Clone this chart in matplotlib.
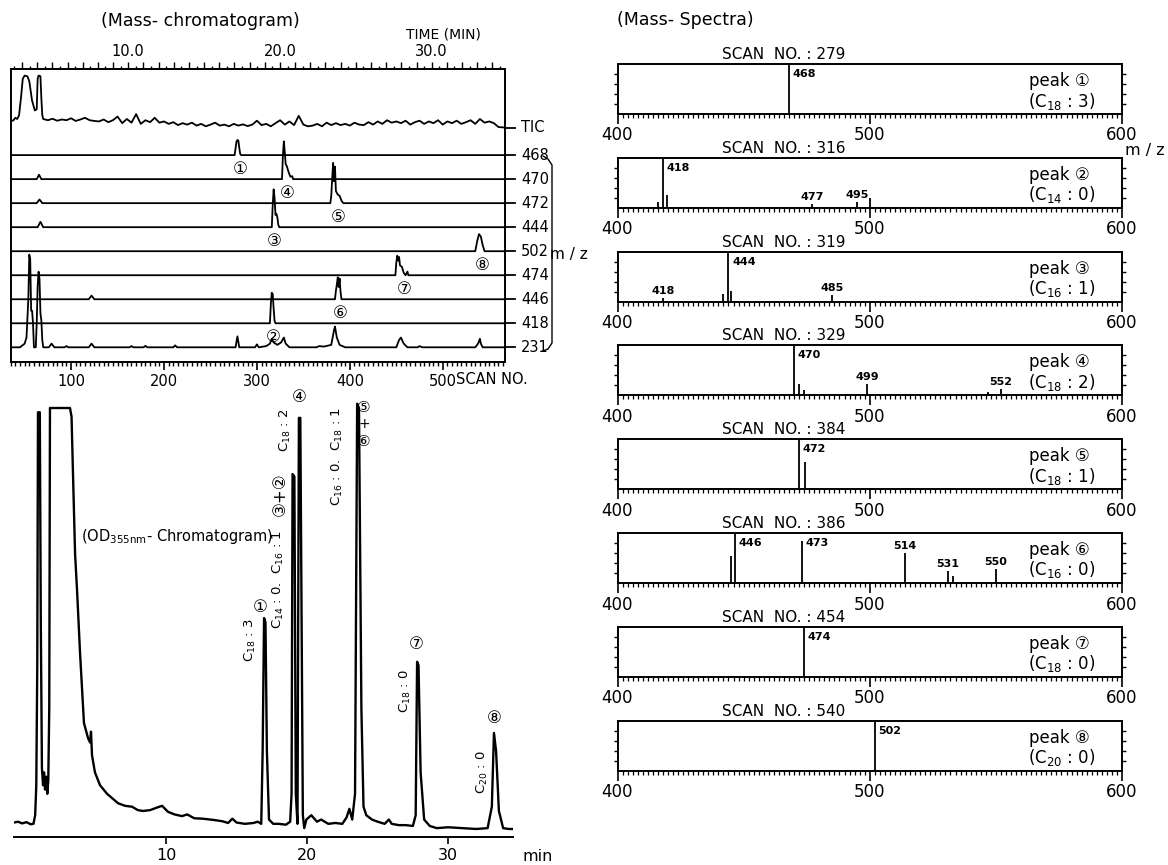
import matplotlib
matplotlib.use('Agg')
import matplotlib.pyplot as plt
from matplotlib.lines import Line2D
from matplotlib.ticker import MultipleLocator, FixedLocator, FuncFormatter, NullFormatter
import matplotlib.transforms as mtransforms

plt.rcParams['font.family'] = ['DejaVu Sans', 'Noto Sans CJK JP']
plt.rcParams['mathtext.default'] = 'regular'
plt.rcParams['axes.linewidth'] = 1.4

W, H = 1168, 865

# ---- mass chromatogram (TIC + ion traces), x in scan number ----
tic_scan = [35, 38, 40, 42, 44, 46, 48, 50, 53, 55, 58, 61, 63, 64, 65, 67, 68, 69,
            70, 75, 80, 85, 90, 95, 100, 105, 110, 115, 120, 125, 130, 135, 140, 145,
            150, 155, 160, 165, 170, 175, 180, 185, 190, 195, 200, 205, 210, 215, 220,
            225, 230, 235, 240, 245, 250, 255, 260, 265, 270, 275, 280, 285, 290, 295,
            300, 305, 310, 315, 320, 325, 330, 335, 340, 345, 350, 355, 360, 365, 370,
            375, 380, 385, 390, 395, 400, 405, 410, 415, 420, 425, 430, 435, 440, 445,
            450, 455, 460, 465, 470, 475, 480, 485, 490, 495, 500, 505, 510, 515, 520,
            525, 530, 535, 540, 545, 550, 555, 560, 567]
tic_val = [0.25, 0.3, 0.4, 0.35, 0.5, 1.2, 2.0, 2.13, 2.1, 1.9, 1.1, 0.7, 0.75, 2.0, 2.13, 2.1, 1.2, 0.5,
           0.35, 0.30, 0.36, 0.28, 0.33, 0.30, 0.38, 0.27, 0.33, 0.40, 0.30, 0.27, 0.25, 0.33, 0.22, 0.30,
           0.45, 0.18, 0.35, 0.20, 0.55, 0.15, 0.30, 0.22, 0.40, 0.20, 0.25, 0.15, 0.22, 0.10, 0.18,
           0.12, 0.20, 0.08, 0.15, 0.05, 0.12, 0.20, 0.08, 0.12, 0.05, 0.15, 0.08, 0.13, 0.06, 0.12,
           0.28, 0.10, 0.15, 0.05, 0.18, 0.30, 0.12, 0.25, 0.10, 0.48, 0.12, 0.05, 0.08, 0.15, 0.05,
           0.20, 0.10, 0.18, 0.10, 0.15, 0.08, 0.20, 0.12, 0.10, 0.22, 0.12, 0.25, 0.15, 0.30, 0.20,
           0.25, 0.18, 0.28, 0.12, 0.22, 0.28, 0.15, 0.25, 0.18, 0.30, 0.12, 0.25, 0.18, 0.28, 0.15,
           0.22, 0.30, 0.15, 0.35, 0.20, 0.25, 0.18, 0.02, 0.0]

# ion traces: (scan, height) key points, baseline zero elsewhere
trace_468 = [(276, 0), (278, 0.55), (279, 0.62), (280, 0.6), (281, 0.3), (282, 0.05), (283, 0)]
trace_470 = [(63, 0), (65.5, 0.18), (68, 0), (327, 0), (328, 1.0), (329, 1.55), (330, 1.1),
             (331, 0.6), (332, 0.55), (334, 0.3), (336, 0.1), (338, 0.12), (339, 0)]
trace_472 = [(63, 0), (66, 0.15), (69, 0), (379, 0), (380, 0.3), (381, 1.0), (382, 1.65),
             (383, 0.9), (384, 1.5), (385, 0.5), (387, 0.35), (389, 0.3), (391, 0.1), (393, 0)]
trace_444 = [(64, 0), (67, 0.22), (70, 0), (316, 0), (317, 0.9), (318, 1.55), (319, 1.2),
             (320, 0.5), (321, 0.55), (322, 0.4), (323, 0.1), (324, 0)]
trace_502 = [(535, 0), (537, 0.4), (539, 0.7), (541, 0.6), (543, 0.25), (545, 0)]
trace_474 = [(449, 0), (450, 0.5), (451, 0.8), (452, 0.6), (453, 0.75), (454, 0.4),
             (456, 0.35), (458, 0.1), (460, 0), (462, 0.15), (463, 0)]
trace_446 = [(119, 0), (122, 0.15), (125, 0), (384, 0), (385, 0.35), (386, 0.6), (387, 0.9),
             (388, 0.5), (389, 0.85), (390, 0.3), (391, 0)]
trace_418 = [(314, 0), (315, 0.8), (316, 1.25), (317, 1.2), (318, 0.6), (319, 0.1), (320, 0)]
trace_231 = [(45, 0), (50, 0.15), (52, 0.4), (54, 2.0), (55, 3.8), (56, 3.6), (57, 1.5), (58, 1.5),
             (59, 1.0), (60, 0), (62, 0), (63, 1.0), (64, 2.5), (65, 3.1), (66, 2.8), (67, 1.4),
             (68, 1.1), (69, 0.3), (70, 0), (76, 0), (79, 0.15), (82, 0), (93, 0), (95, 0.05),
             (97, 0), (119, 0), (122, 0.15), (125, 0), (163, 0), (165, 0.05), (167, 0), (178, 0),
             (180, 0.06), (182, 0), (210, 0), (212, 0.08), (214, 0), (277, 0), (279, 0.45),
             (281, 0), (298, 0), (300, 0.12), (302, 0), (310, 0.05), (314, 0.15), (316, 0.35),
             (318, 0.2), (322, 0.1), (326, 0.2), (329, 0.4), (331, 0.15), (335, 0), (364, 0),
             (367, 0.05), (372, 0.03), (380, 0.1), (383, 0.7), (384, 0.85), (386, 0.4),
             (389, 0.1), (395, 0), (450, 0), (453, 0.3), (455, 0.4), (458, 0.15), (462, 0),
             (473, 0), (475, 0.05), (478, 0), (535, 0), (538, 0.15), (540, 0.35), (541, 0.15),
             (543, 0)]

ion_names = ['468', '470', '472', '444', '502', '474', '446', '418', '231']
ion_traces = [trace_468, trace_470, trace_472, trace_444, trace_502, trace_474,
              trace_446, trace_418, trace_231]
# circled peak number under each ion trace (scan position)
ion_marks = [('①', 282), ('④', 333), ('⑤', 388), ('③', 319), ('⑧', 543),
             ('⑦', 459), ('⑥', 390), ('②', 317), None]

# ---- OD355nm chromatogram, x in minutes ----
od_time = [-0.78, -0.5, -0.2, 0.1, 0.4, 0.6, 0.72, 0.8, 0.87, 0.92, 1.05, 1.12, 1.2, 1.28,
           1.35, 1.42, 1.5, 1.58, 1.65, 1.72, 1.77, 3.19, 3.3, 3.4, 3.55, 3.69, 3.9, 4.18,
           4.47, 4.61, 4.68, 4.75, 4.96, 5.32, 5.82, 6.6, 7.1, 7.59, 8.0, 8.37, 8.87, 9.36,
           9.72, 10.14, 10.6, 11.13, 11.5, 12.0, 12.6, 13.4, 14.0, 14.4, 14.7, 15.0, 15.6,
           16.2, 16.5, 16.75, 16.85, 16.95, 17.05, 17.15, 17.3, 17.6, 18.0, 18.5, 18.8, 18.9,
           18.97, 19.1, 19.2, 19.32, 19.42, 19.52, 19.7, 19.8, 19.95, 20.3, 20.7, 21.0, 21.5,
           22.0, 22.5, 22.8, 23.0, 23.2, 23.4, 23.55, 23.68, 23.85, 24.0, 24.2, 24.6, 25.0,
           25.5, 25.8, 26.0, 26.5, 27.0, 27.5, 27.7, 27.8, 27.9, 28.05, 28.3, 28.7, 29.2,
           30.0, 31.0, 32.0, 32.8, 33.1, 33.25, 33.4, 33.6, 33.9, 34.3, 34.6]
od_abs = [0.033, 0.035, 0.031, 0.034, 0.029, 0.03, 0.05, 0.12, 0.4, 0.99, 0.99, 0.5, 0.16,
          0.12, 0.15, 0.11, 0.14, 0.10, 0.13, 0.3, 1.0, 1.0, 0.98, 0.85, 0.66, 0.575, 0.43,
          0.265, 0.23, 0.22, 0.245, 0.19, 0.15, 0.12, 0.10, 0.078, 0.072, 0.07, 0.062, 0.06,
          0.062, 0.068, 0.072, 0.058, 0.052, 0.048, 0.052, 0.043, 0.042, 0.039, 0.036, 0.032,
          0.042, 0.033, 0.03, 0.032, 0.035, 0.03, 0.2, 0.51, 0.50, 0.2, 0.04, 0.03, 0.03, 0.028,
          0.035, 0.1, 0.846, 0.84, 0.1, 0.03, 0.977, 0.977, 0.05, 0.02, 0.04, 0.05, 0.035, 0.04,
          0.03, 0.032, 0.03, 0.045, 0.065, 0.04, 0.1, 1.01, 1.0, 0.3, 0.07, 0.05, 0.04, 0.035,
          0.03, 0.04, 0.03, 0.027, 0.027, 0.025, 0.05, 0.408, 0.40, 0.15, 0.04, 0.025, 0.02,
          0.022, 0.02, 0.018, 0.02, 0.07, 0.242, 0.2, 0.06, 0.02, 0.018, 0.018]

# ---- mass spectra ----
spec_scan_no = [279, 316, 319, 329, 384, 386, 454, 540]
spec_tag = ['①', '②', '③', '④', '⑤', '⑥', '⑦', '⑧']
spec_chain = ['18', '14', '16', '18', '18', '16', '18', '20']
spec_double = ['3', '0', '1', '2', '1', '0', '0', '0']
spec_lines = [
    [(468, 1.0)],
    [(416, 0.12), (418, 1.0), (419.5, 0.25), (477, 0.07), (495, 0.12), (500, 0.2)],
    [(418, 0.08), (442, 0.15), (444, 1.0), (445, 0.22), (485, 0.13)],
    [(470, 1.0), (472, 0.22), (474, 0.1), (499, 0.22), (547, 0.07), (552, 0.12)],
    [(472, 1.0), (474.5, 0.55)],
    [(445, 0.55), (446.5, 1.0), (473, 0.85), (514, 0.6), (531, 0.24), (533, 0.15), (550, 0.28)],
    [(474, 1.0)],
    [(502, 1.0)],
]
spec_labeled = [
    [468], [418, 477, 495], [418, 444, 485], [470, 499, 552],
    [472], [446, 473, 514, 531, 550], [474], [502],
]


fig = plt.figure(figsize=(W / 100, H / 100), dpi=100)


def box(x0, y0, x1, y1):
    """add axes from a pixel box measured from the top-left corner"""
    return fig.add_axes([x0 / W, 1 - y1 / H, (x1 - x0) / W, (y1 - y0) / H])


def ftext(x, y, s, **kw):
    return fig.text(x / W, 1 - y / H, s, **kw)


def fline(xs, ys, **kw):
    fig.add_artist(Line2D([x / W for x in xs], [1 - y / H for y in ys], color='black', **kw))


def scan_to_min(s):
    return 10 + (s - 161.5) / 16.33


def min_to_scan(t):
    return 161.5 + (t - 10) * 16.33


# ======================= mass chromatogram =======================
ax = box(10.7, 69, 505, 361.7)
xmin, xmax = 35, 567
ax.set_xlim(xmin, xmax)
ax.set_ylim(0, 12)
ax.set_yticks([])
lw = 1.3
label_tr = mtransforms.blended_transform_factory(ax.transAxes, ax.transData)

tic_base = 9.6
ax.plot(tic_scan, [tic_base + v for v in tic_val], color='black', lw=lw)
ax.plot([1.0, 1.02], [tic_base, tic_base], color='black', lw=lw, transform=label_tr, clip_on=False)
ax.text(1.033, tic_base, 'TIC', transform=label_tr, ha='left', va='center', fontsize=10.5)

for i, (name, pts, mark) in enumerate(zip(ion_names, ion_traces, ion_marks)):
    base = 8.47 - 0.985 * i
    xs = [xmin] + [p[0] for p in pts] + [xmax]
    ys = [base] + [base + p[1] for p in pts] + [base]
    ax.plot(xs, ys, color='black', lw=lw)
    ax.plot([1.0, 1.02], [base, base], color='black', lw=lw, transform=label_tr, clip_on=False)
    ax.text(1.033, base, name, transform=label_tr, ha='left', va='center', fontsize=10.5)
    if mark:
        ax.text(mark[1], base - 0.55, mark[0], ha='center', va='center', fontsize=12)

ax.xaxis.set_major_locator(FixedLocator([100, 200, 300, 400, 500]))
ax.xaxis.set_minor_locator(MultipleLocator(5))
ax.tick_params(axis='x', which='major', direction='out', length=6, width=1.2, labelsize=10.5, pad=3)
ax.tick_params(axis='x', which='minor', direction='out', length=3, width=1.0)

top = ax.secondary_xaxis('top', functions=(scan_to_min, min_to_scan))
top.xaxis.set_major_locator(MultipleLocator(1))
top.xaxis.set_minor_locator(MultipleLocator(0.5))
top.xaxis.set_major_formatter(FuncFormatter(lambda v, p: f'{v:.1f}' if round(v) % 10 == 0 else ''))
top.tick_params(which='major', direction='out', length=5, width=1.0, labelsize=10.5, pad=2)
top.tick_params(which='minor', direction='out', length=2.5, width=1.0)

ftext(492, 380, 'SCAN NO.', ha='center', va='center', fontsize=10.5)
ftext(200, 21, '(Mass- chromatogram)', ha='center', va='center', fontsize=12.5)
ftext(443, 34, 'TIME (MIN)', ha='center', va='center', fontsize=10)

# bracket grouping the ion traces
fline([543, 548, 552, 552, 548, 543], [156, 159, 165, 343, 349, 351], lw=1.0)
ftext(569, 255, 'm / z', ha='center', va='center', fontsize=11)

# ======================= OD355nm chromatogram =======================
od = box(14, 395, 513, 836.7)
od.set_xlim(-0.78, 34.6)
od.set_ylim(0, (836.7 - 395) / 428.7)
od.plot(od_time, od_abs, color='black', lw=1.7)
for s in ('left', 'top', 'right'):
    od.spines[s].set_visible(False)
od.set_yticks([])
od.set_xticks([10, 20, 30])
od.tick_params(axis='x', direction='out', length=5, width=1.2, labelsize=11.5, pad=3)
od.text(1.02, -0.045, 'min', transform=od.transAxes, ha='left', va='center', fontsize=11.5)
od.text(3.95, 0.70, '(OD$_{355nm}$- Chromatogram)', ha='left', va='center', fontsize=10.5)

rot = dict(rotation=90, ha='center', va='center', fontsize=9.5)
circ = dict(ha='center', va='center', fontsize=12)
od.text(15.96, 0.458, 'C$_{18}$ : 3', **rot)
od.text(16.67, 0.536, '①', **circ)
od.text(18.0, 0.60, 'C$_{14}$ : 0.  C$_{16}$ : 1', **rot)
od.text(18.08, 0.80, '③+②', rotation=90, ha='center', va='center', fontsize=12)
od.text(18.5, 0.948, 'C$_{18}$ : 2', **rot)
od.text(19.43, 1.025, '④', **circ)
od.text(22.16, 0.888, 'C$_{16}$ : 0.  C$_{18}$ : 1', **rot)
od.text(24.04, 1.0, '⑤', ha='center', va='center', fontsize=11)
od.text(24.04, 0.962, '+', ha='center', va='center', fontsize=10)
od.text(24.04, 0.922, '⑥', ha='center', va='center', fontsize=11)
od.text(26.95, 0.34, 'C$_{18}$ : 0', **rot)
od.text(27.73, 0.45, '⑦', **circ)
od.text(32.4, 0.15, 'C$_{20}$ : 0', **rot)
od.text(33.3, 0.277, '⑧', **circ)

# ======================= mass spectra =======================
ftext(617, 20, '(Mass- Spectra)', ha='left', va='center', fontsize=12.5)
for i in range(8):
    y0 = 64 + 93.8 * i
    sp = box(617.5, y0, 1122, y0 + 50)
    sp.set_xlim(400, 600)
    sp.set_ylim(0, 1)
    for mz, rel in spec_lines[i]:
        sp.plot([mz, mz], [0, rel], color='black', lw=1.3, solid_capstyle='butt')
        num = int(round(mz - 0.1))
        if num in spec_labeled[i]:
            if rel >= 0.7:
                sp.text(mz + 1.5, 0.8, str(num), ha='left', va='center', fontsize=8, fontweight='bold')
            else:
                sp.text(mz, rel + 0.14, str(num), ha='center', va='center', fontsize=8, fontweight='bold')
    sp.set_xticks([400, 500, 600])
    sp.xaxis.set_minor_locator(MultipleLocator(2))
    sp.tick_params(axis='x', which='major', direction='out', length=7, width=1.2,
                   labelsize=12, pad=2)
    sp.tick_params(axis='x', which='minor', direction='out', length=3, width=0.9)
    sp.set_yticks([0.2, 0.4, 0.6, 0.8])
    sp.yaxis.set_major_formatter(NullFormatter())
    sp.tick_params(axis='y', which='both', left=True, right=True, direction='out', length=3, width=1.0)
    sp.text(0.33, 1.04, f'SCAN  NO. : {spec_scan_no[i]}', transform=sp.transAxes,
            ha='center', va='bottom', fontsize=11)
    sp.text(0.875, 0.66, f'peak {spec_tag[i]}', transform=sp.transAxes,
            ha='center', va='center', fontsize=12)
    sp.text(0.88, 0.26, f'(C$_{{{spec_chain[i]}}}$ : {spec_double[i]})', transform=sp.transAxes,
            ha='center', va='center', fontsize=12)

ftext(1145, 151, 'm / z', ha='center', va='center', fontsize=11.5)

fig.savefig('out.png', dpi=100, facecolor='white')
